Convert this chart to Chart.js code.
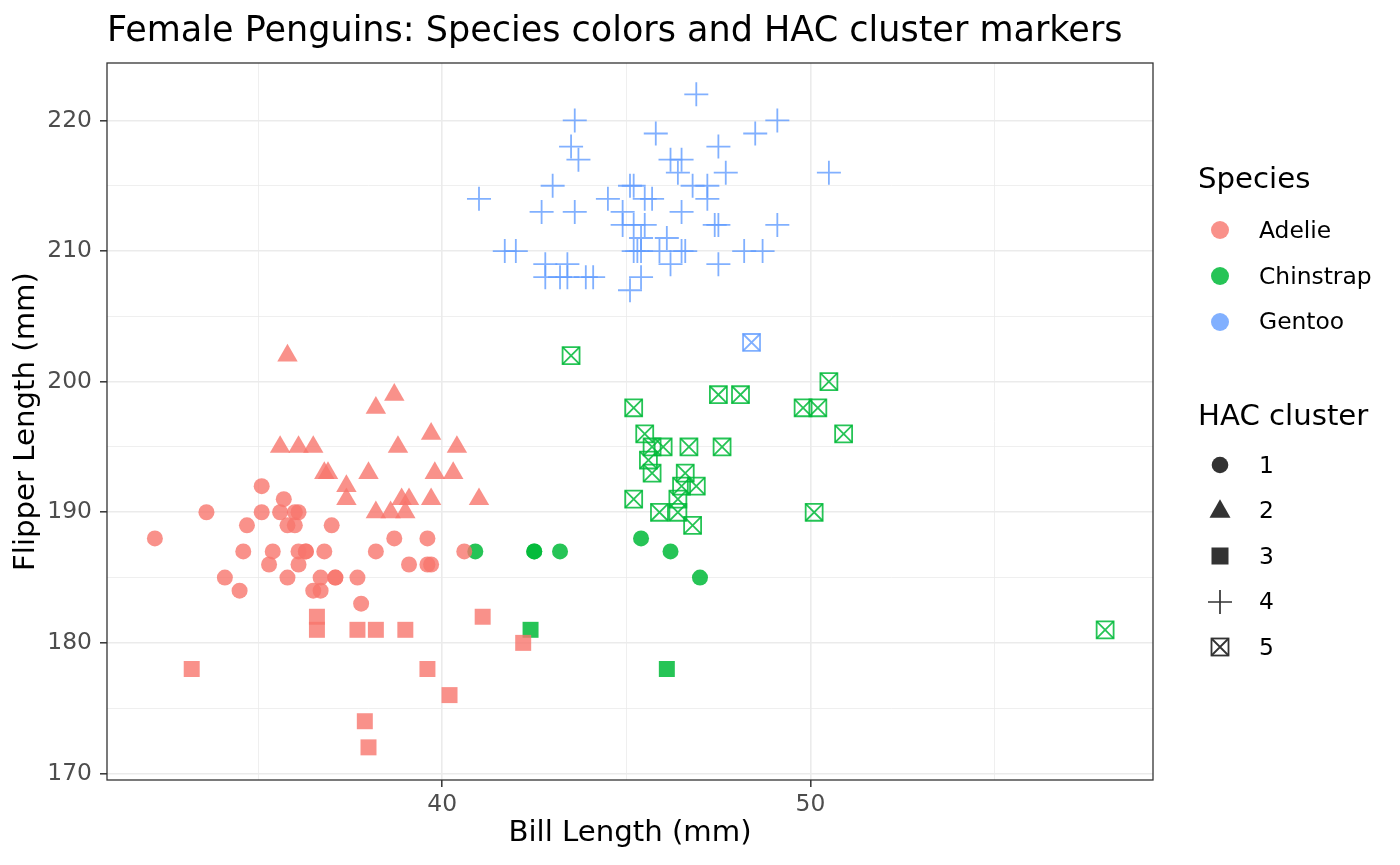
<!DOCTYPE html>
<html>
<head>
<meta charset="utf-8">
<script src="https://cdn.jsdelivr.net/npm/chart.js@4.4.1/dist/chart.umd.min.js"></script>
<style>
  body { margin: 0; background: #fff; font-family: "DejaVu Sans", sans-serif; }
  #wrap { position: relative; width: 1400px; height: 865px; }
  #chart { position: absolute; left: 0; top: 0; }
  #title { position: absolute; left: 107px; top: 12.4px; font-size: 35px; line-height: 1; color: #000; white-space: nowrap; }
  .lg-title { position: absolute; left: 1198px; font-size: 29.2px; line-height: 1; color: #000; white-space: nowrap; }
  .lg-key { position: absolute; left: 1200px; width: 40px; height: 40px; }
  .lg-text { position: absolute; left: 1259px; font-size: 23.4px; line-height: 1; color: #000; white-space: nowrap; }
</style>
</head>
<body>
<div id="wrap">
  <canvas id="chart" width="1400" height="865"></canvas>
  <div id="title">Female Penguins: Species colors and HAC cluster markers</div>
  <div id="legend"></div>
</div>
<script>
// bill length (mm), flipper length (mm), per species and HAC cluster
const adelie1 = [
  [32.2,188],[33.6,190],[34.1,185],[34.5,184],[34.6,187],[34.7,189],[35.1,190],[35.1,192],
  [35.3,186],[35.4,187],[35.6,190],[35.7,191],[35.8,185],[35.8,189],[36.0,189],[36.0,190],
  [36.1,190],[36.1,186],[36.1,187],[36.3,187],[36.3,187],[36.5,184],[36.7,184],[36.7,185],
  [36.8,187],[37.0,189],[37.1,185],[37.1,185],[37.7,185],[37.8,183],[38.2,187],[38.7,188],
  [39.1,186],[39.6,186],[39.7,186],[39.6,188],[40.6,187]
];
const adelie2 = [
  [35.8,202],[38.7,199],[38.2,198],[39.7,196],[35.6,195],[36.1,195],[36.5,195],[38.8,195],
  [40.4,195],[36.8,193],[36.9,193],[38.0,193],[39.8,193],[40.3,193],[37.4,192],[37.4,191],
  [38.9,191],[39.1,191],[39.7,191],[41.0,191],[38.2,190],[38.6,190],[39.0,190]
];
const adelie3 = [
  [36.6,182],[36.6,181],[37.7,181],[38.2,181],[39.0,181],[41.1,182],[33.2,178],[39.6,178],
  [40.2,176],[37.9,174],[38.0,172],[42.2,180]
];
const chinstrap1 = [[40.9,187],[42.5,187],[42.5,187],[43.2,187],[45.4,188],[46.2,187],[47.0,185]];
const chinstrap3 = [[42.4,181],[46.1,178]];
const chinstrap5 = [
  [43.5,202],[50.5,200],[47.5,199],[48.1,199],[45.2,198],[49.8,198],[50.2,198],[45.5,196],
  [50.9,196],[45.7,195],[46.0,195],[46.7,195],[47.6,195],[45.6,194],[45.7,193],[46.6,193],
  [46.5,192],[46.9,192],[45.2,191],[46.4,191],[45.9,190],[46.4,190],[50.1,190],[46.8,189],
  [58.0,181]
];
const gentoo4 = [
  [46.9,222],[43.6,220],[49.1,220],[45.8,219],[48.5,219],[43.5,218],[47.5,218],[43.7,217],
  [46.2,217],[46.5,217],[46.4,216],[47.7,216],[50.5,216],[43.0,215],[45.1,215],[45.2,215],
  [46.8,215],[47.2,215],[41.0,214],[44.5,214],[45.5,214],[45.7,214],[47.2,214],[42.7,213],
  [43.6,213],[44.9,213],[46.5,213],[44.9,212],[45.2,212],[45.5,212],[47.4,212],[47.5,212],
  [49.1,212],[45.4,211],[46.1,211],[41.7,210],[42.0,210],[45.2,210],[45.3,210],[45.4,210],
  [45.9,210],[46.5,210],[46.6,210],[48.2,210],[48.7,210],[42.8,209],[43.4,209],[46.2,209],
  [47.5,209],[42.8,208],[43.2,208],[43.4,208],[43.9,208],[44.1,208],[45.4,208],[45.1,207]
];
const gentoo5 = [[48.4,203]];

const xTicks = [35, 40, 45, 50, 55];
const yTicks = [170, 175, 180, 185, 190, 195, 200, 205, 210, 215, 220];
const speciesNames = ['Adelie', 'Chinstrap', 'Gentoo'];
const clusterNames = ['1', '2', '3', '4', '5'];

const colors = {
  Adelie: 'rgba(248,118,109,0.8)',
  Chinstrap: 'rgba(0,186,56,0.85)',
  Gentoo: 'rgba(97,156,255,0.8)'
};

const toXY = arr => arr.map(([x, y]) => ({ x, y }));

function filled(data, color, style, radius) {
  return {
    data: toXY(data), pointStyle: style, pointRadius: radius,
    backgroundColor: color, borderColor: color, borderWidth: 0
  };
}
function stroked(data, color, style, radius, width) {
  return {
    data: toXY(data), pointStyle: style, pointRadius: radius,
    backgroundColor: 'rgba(0,0,0,0)', borderColor: color, borderWidth: width
  };
}
// shape 5 = open square with an X inside: two marks on the same points
function boxX(data, color) {
  return [stroked(data, color, 'rect', 12, 1.8), stroked(data, color, 'crossRot', 12, 1.8)];
}

const datasets = [
  filled(adelie1, colors.Adelie, 'circle', 8),
  filled(adelie2, colors.Adelie, 'triangle', 11.8),
  filled(adelie3, colors.Adelie, 'rect', 11.3),
  filled(chinstrap1, colors.Chinstrap, 'circle', 8),
  filled(chinstrap3, colors.Chinstrap, 'rect', 11.3),
  ...boxX(chinstrap5, colors.Chinstrap),
  stroked(gentoo4, colors.Gentoo, 'cross', 12, 1.8),
  ...boxX(gentoo5, colors.Gentoo)
];

const isMajor = v => v % 10 === 0;
const tickFont = { family: 'DejaVu Sans', size: 23.4 };
const titleFont = { family: 'DejaVu Sans', size: 29.2, lineHeight: 1.2 };

const panelBorder = {
  id: 'panelBorder',
  afterDatasetsDraw(chart) {
    const { ctx, chartArea: a } = chart;
    ctx.save();
    ctx.strokeStyle = '#333333';
    ctx.lineWidth = 1.3;
    ctx.strokeRect(a.left, a.top, a.right - a.left, a.bottom - a.top);
    ctx.restore();
  }
};

function gridOpts() {
  return {
    color: '#EBEBEB',
    lineWidth: c => (c.tick && isMajor(c.tick.value) ? 1.6 : 0.8),
    tickColor: c => (c.tick && isMajor(c.tick.value) ? '#333333' : 'rgba(0,0,0,0)'),
    tickWidth: 1.5,
    tickLength: 7
  };
}

new Chart(document.getElementById('chart'), {
  type: 'scatter',
  data: { datasets },
  options: {
    responsive: false,
    animation: false,
    events: [],
    layout: { padding: { top: 63, right: 247, bottom: 0, left: 0 } },
    plugins: { legend: { display: false }, tooltip: { enabled: false } },
    scales: {
      x: {
        type: 'linear', min: 30.9, max: 59.3,
        afterBuildTicks: s => { s.ticks = xTicks.map(v => ({ value: v })); },
        afterFit: s => { s.height = 85; },
        ticks: { autoSkip: false, padding: 4, color: '#4D4D4D', font: tickFont,
                 callback: v => (isMajor(v) ? v : '') },
        grid: gridOpts(),
        border: { display: false },
        title: { display: true, text: 'Bill Length (mm)', color: '#000', font: titleFont,
                 padding: { top: 0, bottom: 14 } }
      },
      y: {
        type: 'linear', min: 169.5, max: 224.4,
        afterBuildTicks: s => { s.ticks = yTicks.map(v => ({ value: v })); },
        afterFit: s => { s.width = 107; },
        ticks: { autoSkip: false, padding: 8, color: '#4D4D4D', font: tickFont,
                 callback: v => (isMajor(v) ? v : '') },
        grid: gridOpts(),
        border: { display: false },
        title: { display: true, text: 'Flipper Length (mm)', color: '#000', font: titleFont,
                 padding: { top: 8.4, bottom: 0 } }
      }
    }
  },
  plugins: [panelBorder]
});

// legend (two groups, like ggplot)
const dark = '#333333';
const keyShapes = {
  '1': `<circle cx="20" cy="20" r="8.3" fill="${dark}"/>`,
  '2': `<polygon points="20,8.3 9.5,26.7 30.5,26.7" fill="${dark}"/>`,
  '3': `<rect x="11.5" y="11.5" width="17" height="17" fill="${dark}"/>`,
  '4': `<path d="M8 20H32M20 8V32" stroke="${dark}" stroke-width="1.7"/>`,
  '5': `<rect x="11.5" y="11.5" width="17" height="17" fill="none" stroke="${dark}" stroke-width="1.8"/>` +
       `<path d="M11.5 11.5L28.5 28.5M28.5 11.5L11.5 28.5" stroke="${dark}" stroke-width="1.8"/>`
};
const legend = document.getElementById('legend');
function addItem(cy, svgInner, label) {
  legend.insertAdjacentHTML('beforeend',
    `<svg class="lg-key" style="top:${cy - 20}px" viewBox="0 0 40 40">${svgInner}</svg>` +
    `<div class="lg-text" style="top:${cy - 11.3}px">${label}</div>`);
}
legend.insertAdjacentHTML('beforeend', `<div class="lg-title" style="top:164.3px">Species</div>`);
speciesNames.forEach((name, i) => {
  addItem(230 + i * 45.8, `<circle cx="20" cy="20" r="9" fill="${colors[name]}"/>`, name);
});
legend.insertAdjacentHTML('beforeend', `<div class="lg-title" style="top:401.3px">HAC cluster</div>`);
clusterNames.forEach((name, i) => {
  addItem(465 + i * 45.5, keyShapes[name], name);
});
</script>
</body>
</html>
